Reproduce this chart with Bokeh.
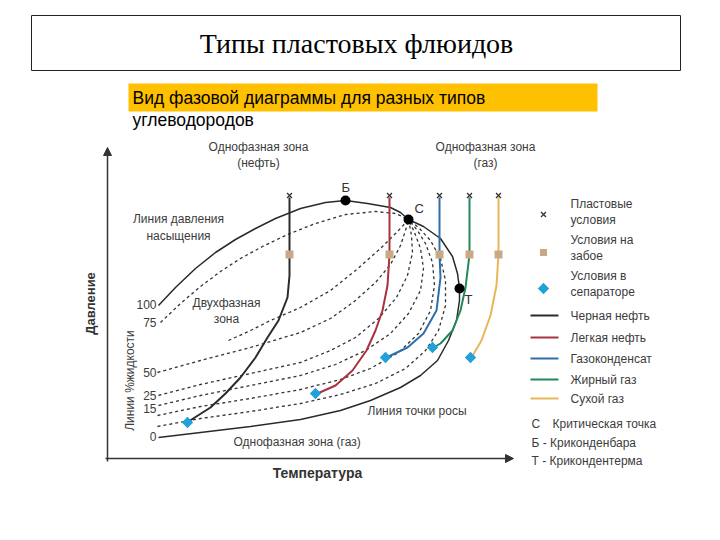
import numpy as np
from bokeh.plotting import figure
from bokeh.models import Range1d, Arrow, NormalHead
from bokeh.core.properties import value
from bokeh.embed import file_html
from bokeh.resources import INLINE

# ---------------- data (temperature T, pressure P in diagram units) -------------
# phase envelope: bubble-point line (100 %) -> C -> T -> dew-point line (0 %)
env_T = [51, 68, 88, 108, 128, 148, 168, 193, 218, 238, 260, 283, 293, 301,
         316, 333, 345, 350, 352,
         352, 349, 341, 330, 313, 293, 263, 233, 193, 143, 93, 51]
env_P = [153, 171, 190, 206, 219, 230, 240, 250, 256, 258, 255, 251, 246, 239,
         232, 220, 202, 185, 170,
         158, 138, 118, 98, 83, 71, 58, 48, 39, 32, 26, 21]

# liquid-percentage (quality) lines, all converging at the critical point C
q75_T = [53, 73, 93, 113, 133, 155, 180, 208, 238, 268, 288, 301]
q75_P = [136, 155, 172, 187, 200, 212, 224, 235, 244, 247, 245, 239]
qmid_T = [121, 143, 163, 193, 223, 248, 273, 291, 301]
qmid_P = [118, 128, 138, 151, 168, 188, 210, 228, 239]
q50_T = [50, 93, 143, 193, 223, 248, 268, 283, 293, 298, 301]
q50_P = [86, 98, 111, 126, 140, 158, 176, 194, 213, 228, 239]
q25_T = [51, 93, 143, 193, 223, 248, 271, 289, 300, 305, 304, 301]
q25_P = [63, 74, 85, 96, 108, 121, 140, 161, 183, 206, 223, 239]
q15_T = [51, 93, 143, 193, 228, 258, 283, 301, 313, 316, 313, 307, 301]
q15_P = [53, 63, 73, 83, 94, 108, 125, 145, 168, 190, 210, 226, 239]
q10_T = [50, 93, 143, 193, 233, 263, 291, 311, 323, 327, 325, 318, 310, 301]
q10_P = [43, 52, 60, 69, 79, 90, 106, 125, 148, 173, 196, 215, 228, 239]
q5_T = [50, 93, 143, 193, 233, 268, 298, 318, 331, 338, 338, 333, 323, 311, 301]
q5_P = [32, 40, 47, 55, 64, 75, 90, 108, 128, 153, 178, 200, 218, 231, 239]
quality_labels = ["100", "75", "50", "25", "15", "0"]
quality_label_P = [154, 136, 86, 63, 50, 22]

# production paths: reservoir -> bottom-hole -> separator
fluids = ["Черная нефть", "Легкая нефть", "Газоконденсат", "Жирный газ", "Сухой газ"]
colors = ["#2b2b2b", "#a8323e", "#2f6ea8", "#23875a", "#e8b55a"]
path_T = [
    [182, 182, 182, 180, 171, 160, 148, 133, 118, 103, 81],
    [282, 282, 280, 275, 268, 259, 245, 228, 210],
    [332, 332, 333, 329, 316, 300, 279],
    [362, 362, 358, 353, 345, 333, 326],
    [391, 391, 389, 383, 374, 364],
]
path_P = [
    [261, 204, 183, 161, 138, 121, 101, 81, 65, 51, 37],
    [261, 204, 173, 148, 128, 108, 88, 73, 65],
    [261, 204, 181, 148, 125, 111, 101],
    [261, 204, 171, 148, 128, 115, 111],
    [261, 204, 173, 143, 118, 101],
]
reservoir_T = [182, 282, 332, 362, 391]
reservoir_P = [263, 263, 263, 263, 263]
bottom_T = [182, 282, 332, 362, 391]
bottom_P = [204, 204, 204, 204, 204]
separator_T = [80, 208, 278, 325, 363]
separator_P = [36, 65, 101, 111, 101]

special_names = ["Б", "С", "Т"]
special_T = [238, 301, 352]
special_P = [258, 239, 170]

# ---------------- layout helpers (page pixels -> diagram units) ----------------
W, H = 704, 524
OX, OY = 107, 458


def px(x):
    return x - OX


def py(y):
    return OY - y


p = figure(width=W, height=H, x_range=Range1d(-OX, -OX + W),
           y_range=Range1d(OY - H, OY), output_backend="svg",
           toolbar_location=None, min_border=0)
p.axis.visible = False
p.grid.visible = False
p.outline_line_color = None
p.background_fill_color = "white"

SANS = value("Liberation Sans")
TXT = "#3c3c3c"

# title box
p.quad(left=[px(31)], right=[px(680)], top=[py(15)], bottom=[py(70)],
       fill_color="white", line_color="#222", line_width=1)
p.text(x=[px(356)], y=[py(43)], text=["Типы пластовых флюидов"],
       text_font=value("Liberation Serif"), text_font_size="28px",
       text_align="center", text_baseline="middle", text_color="black")

# subtitle
p.quad(left=[px(128)], right=[px(597)], top=[py(83)], bottom=[py(111)],
       fill_color="#FFC000", line_color=None)
p.text(x=[px(132), px(132)], y=[py(97), py(119)],
       text=["Вид фазовой диаграммы для разных типов", "углеводородов"],
       text_font=SANS, text_font_size="17.5px", text_align="left",
       text_baseline="middle", text_color="black")

# axes with arrows
p.add_layout(Arrow(x_start=0, y_start=-3, x_end=0, y_end=311, line_width=1.5,
                   line_color="#333",
                   end=NormalHead(size=8, fill_color="#333", line_color="#333")))
p.add_layout(Arrow(x_start=-2, y_start=0, x_end=406, y_end=0, line_width=1.5,
                   line_color="#333",
                   end=NormalHead(size=8, fill_color="#333", line_color="#333")))
p.text(x=[px(90)], y=[py(303)], text=["Давление"], angle=np.pi / 2,
       text_font=SANS, text_font_size="13px", text_font_style="bold",
       text_align="center", text_baseline="middle", text_color="#333")
p.text(x=[px(317)], y=[py(472)], text=["Температура"],
       text_font=SANS, text_font_size="14px", text_font_style="bold",
       text_align="center", text_baseline="middle", text_color="#333")

# quality lines
for qt, qp in [(q75_T, q75_P), (qmid_T, qmid_P), (q50_T, q50_P), (q25_T, q25_P),
               (q15_T, q15_P), (q10_T, q10_P), (q5_T, q5_P)]:
    p.line(qt, qp, line_color="#333", line_width=1.3, line_dash="3 3")

# envelope
p.line(env_T, env_P, line_color="#2a2a2a", line_width=1.5)

# production paths
for t, pp, c in zip(path_T, path_P, colors):
    p.line(t, pp, line_color=c, line_width=2)

p.scatter(reservoir_T, reservoir_P, marker="x", size=7, line_color="#333", line_width=1.3)
p.scatter(bottom_T, bottom_P, marker="square", size=8, fill_color="#c9a886", line_color=None)
p.scatter(separator_T, separator_P, marker="square", angle=np.pi / 4, size=8,
          fill_color="#22a0d8", line_color=None)
p.scatter(special_T, special_P, marker="circle", size=10, fill_color="black", line_color=None)
p.text(x=[special_T[0], special_T[1] + 6, special_T[2] + 5],
       y=[special_P[0] + 13, special_P[1] + 11, special_P[2] - 11],
       text=special_names, text_font=SANS, text_font_size="13px",
       text_align="left", text_baseline="middle", text_color="#333",
       x_offset=[-4, 0, 0])

# quality labels
p.text(x=[px(156)] * len(quality_labels), y=quality_label_P, text=quality_labels,
       text_font=SANS, text_font_size="12px", text_align="right",
       text_baseline="middle", text_color=TXT)
p.text(x=[px(129)], y=[py(380)], text=["Линии %жидкости"], angle=np.pi / 2,
       text_font=SANS, text_font_size="12px", text_align="center",
       text_baseline="middle", text_color=TXT)

# zone annotations
p.text(x=[px(258), px(258), px(485), px(485), px(178), px(178), px(226), px(226)],
       y=[py(146), py(162), py(146), py(162), py(218), py(235), py(302), py(318)],
       text=["Однофазная зона", "(нефть)", "Однофазная зона", "(газ)",
             "Линия давления", "насыщения", "Двухфазная", "зона"],
       text_font=SANS, text_font_size="12px", text_align="center",
       text_baseline="middle", text_color=TXT)
p.text(x=[px(367), px(233)], y=[py(410), py(441)],
       text=["Линия точки росы", "Однофазная зона (газ)"],
       text_font=SANS, text_font_size="12px", text_align="left",
       text_baseline="middle", text_color=TXT)

# legend
LX = px(543)
p.scatter([LX], [py(214)], marker="x", size=7, line_color="#333", line_width=1.3)
p.scatter([LX], [py(252)], marker="square", size=7, fill_color="#c9a886", line_color=None)
p.scatter([LX], [py(288)], marker="square", angle=np.pi / 4, size=8,
          fill_color="#22a0d8", line_color=None)
leg_y = [203, 219, 239, 255, 275, 291]
p.text(x=[px(570)] * 6, y=[py(v) for v in leg_y],
       text=["Пластовые", "условия", "Условия на", "забое", "Условия в", "сепараторе"],
       text_font=SANS, text_font_size="12px", text_align="left",
       text_baseline="middle", text_color=TXT)
line_y = [315, 337, 358, 379, 398]
p.segment(x0=[px(530)] * 5, x1=[px(558)] * 5, y0=[py(v) for v in line_y],
          y1=[py(v) for v in line_y], line_color=colors, line_width=2)
p.text(x=[px(570)] * 5, y=[py(v) for v in line_y], text=fluids,
       text_font=SANS, text_font_size="12px", text_align="left",
       text_baseline="middle", text_color=TXT)
p.text(x=[px(531), px(552), px(531), px(531)], y=[py(423), py(423), py(442), py(460)],
       text=["С", "Критическая точка", "Б - Криконденбара", "Т - Крикондентерма"],
       text_font=SANS, text_font_size="12px", text_align="left",
       text_baseline="middle", text_color=TXT)

open("out.html", "w").write(file_html(p, INLINE))
